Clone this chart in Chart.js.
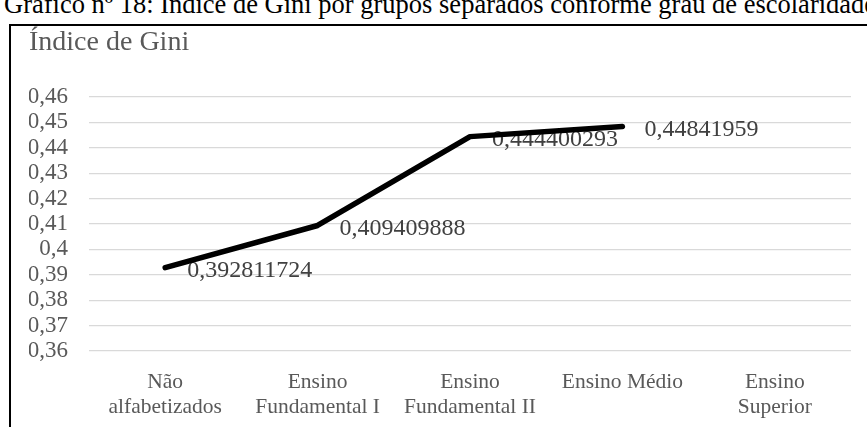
<!DOCTYPE html>
<html>
<head>
<meta charset="utf-8">
<script src="https://cdn.jsdelivr.net/npm/chart.js@4"></script>
<style>
  html, body { margin: 0; padding: 0; width: 867px; height: 427px; overflow: hidden; background: #fff; }
  #caption {
    position: absolute; left: 4px; top: -13px;
    font-family: "Liberation Serif", "Times New Roman", serif;
    font-size: 26.5px; line-height: 34px; color: #000; white-space: nowrap;
  }
  #frame {
    position: absolute; left: 9px; top: 24px; width: 1000px; height: 600px;
    border: 2px solid #000; box-sizing: border-box;
  }
  #wrap { position: absolute; left: 0; top: 0; width: 867px; height: 427px; }
</style>
</head>
<body>
<div id="caption">Gráfico nº 18: Índice de Gini por grupos separados conforme grau de escolaridade</div>
<div id="frame"></div>
<div id="wrap"><canvas id="chart" width="867" height="427"></canvas></div>
<script>
// Education levels (x categories)
const categories = [
  ['Não', 'alfabetizados'],
  ['Ensino', 'Fundamental I'],
  ['Ensino', 'Fundamental II'],
  'Ensino Médio',
  ['Ensino', 'Superior']
];
// Gini index per education level (no value for Ensino Superior)
const giniValues = [0.392811724, 0.409409888, 0.444400293, 0.44841959, null];
// Value axis range and step
const yMin = 0.36;
const yMax = 0.46;
const yStep = 0.01;

const serif = '"Liberation Serif", "Times New Roman", serif';
const decimalComma = v => String(v).replace('.', ',');

// Writes each point's value to the right of the point
const valueLabels = {
  id: 'valueLabels',
  beforeDatasetsDraw(chart) {
    const ctx = chart.ctx;
    const meta = chart.getDatasetMeta(0);
    const data = chart.data.datasets[0].data;
    ctx.save();
    ctx.font = '24px ' + serif;
    ctx.fillStyle = '#404040';
    ctx.textAlign = 'left';
    ctx.textBaseline = 'middle';
    meta.data.forEach((pt, i) => {
      const v = data[i];
      if (v === null || v === undefined) return;
      ctx.fillText(decimalComma(v), pt.x + 22, pt.y + 3);
    });
    ctx.restore();
  }
};

new Chart(document.getElementById('chart'), {
  type: 'line',
  data: {
    labels: categories,
    datasets: [{
      data: giniValues,
      borderColor: '#000',
      backgroundColor: '#000',
      borderWidth: 5.5,
      borderCapStyle: 'round',
      borderJoinStyle: 'round',
      pointRadius: 0,
      tension: 0,
      fill: false,
      spanGaps: false
    }]
  },
  options: {
    responsive: false,
    animation: false,
    devicePixelRatio: 1,
    layout: { padding: { left: 29, right: 16, top: 0, bottom: 0 } },
    plugins: {
      legend: { display: false },
      tooltip: { enabled: false },
      title: {
        display: true,
        text: 'Índice de Gini',
        align: 'start',
        color: '#595959',
        font: { family: serif, size: 28, weight: 'normal', lineHeight: 1.2 },
        padding: { top: 26, bottom: 37.4 }
      }
    },
    scales: {
      x: {
        offset: true,
        grid: { display: false, drawTicks: false },
        border: { display: false },
        ticks: {
          color: '#595959',
          font: { family: serif, size: 21.5, lineHeight: 1.17 },
          padding: 19,
          maxRotation: 0,
          autoSkip: false
        },
        afterFit(scale) { scale.height = 76; }
      },
      y: {
        min: yMin,
        max: yMax,
        grid: { color: '#d9d9d9', lineWidth: 1.3, drawTicks: false },
        border: { display: false },
        ticks: {
          stepSize: yStep,
          autoSkip: false,
          color: '#595959',
          font: { family: serif, size: 23, lineHeight: 1 },
          padding: 21,
          callback: v => decimalComma(Number(v.toFixed(2)))
        },
        afterFit(scale) { scale.width = 60; }
      }
    }
  },
  plugins: [valueLabels]
});
</script>
</body>
</html>
